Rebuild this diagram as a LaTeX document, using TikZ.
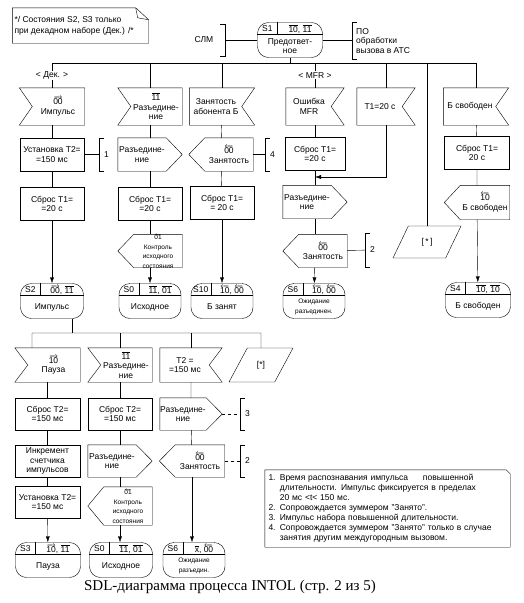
\documentclass[tikz,border=0pt]{standalone}
\usepackage{fontspec}
\setmainfont{Liberation Sans}
\newfontfamily\capfont{Liberation Serif}
\usetikzlibrary{shapes.geometric,arrows.meta,calc}

\newcommand\fw[1]{$\overrightarrow{\mbox{#1}}$}
\newcommand\bw[1]{$\overleftarrow{\mbox{#1}}$}
\newcommand\ov[1]{$\overline{\mbox{#1}}$}
\newcommand\tinytxt{\fontsize{6.5}{6.8}\selectfont}

% state: name, position, id, signals, text, width
\newcommand\stnode[6]{%
  \node[stbox, minimum width=#6] (#1) at (#2) {};
  \draw ([yshift=-12pt]#1.north west) -- ([yshift=-12pt]#1.north east);
  \draw ([xshift=20pt]#1.north west) -- ([xshift=20pt,yshift=-12pt]#1.north west);
  \node at ([xshift=10pt,yshift=-6.5pt]#1.north west) {#3};
  \node at ($([xshift=20pt]#1.north west)!0.5!(#1.north east)+(0,6.5)$) {#4};
  \node at ($(#1.center)+(0,6)$) {#5};
}
% input, notch left / right: [options] name, position, text
\newcommand\inL[4][]{%
  \node[sigbox, minimum height=36pt, #1] (#2) at (#3) {};
  \draw (#2.north west) -- (#2.north east) -- (#2.south east) -- (#2.south west)
    -- ([xshift=13pt]#2.west) -- cycle;
  \node at ([xshift=6pt]#2.center) {#4};
}
\newcommand\inR[4][]{%
  \node[sigbox, minimum height=36pt, #1] (#2) at (#3) {};
  \draw (#2.north east) -- (#2.north west) -- (#2.south west) -- (#2.south east)
    -- ([xshift=-13pt]#2.east) -- cycle;
  \node at ([xshift=-6pt]#2.center) {#4};
}
% output, pointing right / left
\newcommand\outR[4][]{%
  \node[sigbox, #1] (#2) at (#3) {};
  \draw (#2.north west) -- ([xshift=-16pt]#2.north east) -- (#2.east)
    -- ([xshift=-16pt]#2.south east) -- (#2.south west) -- cycle;
  \node at ([xshift=-8pt]#2.center) {#4};
}
\newcommand\outL[4][]{%
  \node[sigbox, #1] (#2) at (#3) {};
  \draw (#2.north east) -- ([xshift=16pt]#2.north west) -- (#2.west)
    -- ([xshift=16pt]#2.south west) -- (#2.south east) -- cycle;
  \node at ([xshift=8pt]#2.center) {#4};
}
% remark bracket: name, position, text, height
\newcommand\remark[4]{%
  \node[rmk, minimum height=#4] (#1) at (#2) {#3};
  \draw ([xshift=5pt]#1.north west) -- (#1.north west) -- (#1.south west) -- ([xshift=5pt]#1.south west);
}

\begin{document}
\begin{tikzpicture}[x=1pt,y=-1pt,
    every node/.style={font=\fontsize{8.5}{9.5}\selectfont, align=center, inner sep=1pt},
    task/.style={draw, rectangle, minimum width=64pt, minimum height=33pt},
    sigbox/.style={rectangle, minimum width=64pt, minimum height=33pt},
    para/.style={draw, trapezium, trapezium left angle=62, trapezium right angle=118,
      trapezium stretches=true, minimum width=68pt, minimum height=32pt},
    stbox/.style={draw, rectangle, rounded corners=11pt, minimum height=35pt},
    rmk/.style={anchor=west, inner xsep=5pt},
    >={Latex[length=6pt,width=4pt]}]
  \useasboundingbox (0,0) rectangle (523,603);

  % comment
  \node[minimum width=136pt, minimum height=35pt] (cmt) at (80.5,25.5) {};
  \node[anchor=west, align=left, font=\fontsize{8.5}{11}\selectfont] (cmttxt) at ([xshift=1pt]cmt.west)
    {*/ Состояния S2, S3 только\\при декадном наборе (Дек.) /*};
  \draw (cmt.north west) -- ([xshift=-13pt]cmt.north east) -- ([yshift=-12pt]cmt.north east)
    -- (cmt.south east) -- (cmt.south west) -- cycle;
  \draw ([xshift=-13pt]cmt.north east) -- ([xshift=-11pt,yshift=-10pt]cmt.north east)
    -- ([yshift=-12pt]cmt.north east);

  % start state
  \stnode{s1}{290,40}{S1}{\ov{10}, \ov{11}}{Предответ-\\ное}{65pt}
  \node (slm) at (204,40) {СЛМ};
  \coordinate (slmb) at (225,40);
  \draw ([xshift=-5pt,yshift=16pt]slmb) -- ([yshift=16pt]slmb) -- ([yshift=-16pt]slmb)
    -- ([xshift=-5pt,yshift=-16pt]slmb);
  \draw (slmb) -- (s1);
  \node[anchor=west, align=left] (po) at (355,41) {ПО\\обработки\\вызова в АТС};
  \coordinate (pob) at (352,40);
  \draw ([xshift=5pt,yshift=18pt]pob) -- ([yshift=18pt]pob) -- ([yshift=-19pt]pob)
    -- ([xshift=5pt,yshift=-19pt]pob);
  \draw (s1) -- (pob);

  % inputs
  \inL[minimum width=65pt, minimum height=37pt]{imp}{52,106.5}{\fw{00}\\Импульс}
  \inL[minimum width=64pt, minimum height=37pt]{razi}{150,106.5}{\ov{11}\\Разъедине-\\ние}
  \inR[minimum width=65pt, minimum height=37pt]{zanb}{222,106.5}{Занятость\\абонента Б}
  \inR[minimum width=58pt, minimum height=37pt]{mfr}{315,106.5}{Ошибка\\MFR}
  \inR[minimum width=58pt, minimum height=37pt]{t1in}{386,106.5}{T1=20 с}
  \inR[minimum width=65pt, minimum height=37pt]{bsv}{476,106.5}{Б свободен}
  \node[para] (star1) at (427,242) {[\,*\,]};

  % bus
  \coordinate (busL) at (52,63);
  \coordinate (busR) at (476,63);
  \draw (s1) -- (s1 |- busL);
  \draw (imp.north) -- node[fill=white] {< Дек. >} (busL) -- (busR) -- (bsv.north);
  \draw (razi) -- (razi |- busL);
  \draw (zanb) -- (zanb |- busL);
  \draw (mfr) -- node[fill=white] {< MFR >} (mfr |- busL);
  \draw (t1in) -- (t1in |- busL);
  \draw (star1) -- (star1 |- busL);

  % column 1
  \node[task] (t2set) at (52,154.5) {Установка T2=\\=150 мс};
  \node[task] (t1res1) at (52,204) {Сброс T1=\\=20 с};
  \stnode{s2}{52,301}{S2}{\fw{00}, \ov{11}}{Импульс}{63pt}
  \remark{rk1}{99,154.5}{1}{32pt}
  \draw (imp) -- (t2set) -- (t1res1);
  \draw[->] (t1res1) -- (s2);
  \draw (t2set) -- (rk1);

  % column 2
  \outR{raz2}{150,154.5}{Разъедине-\\ние}
  \node[task] (t1res2) at (150,204) {Сброс T1=\\=20 с};
  \outL{ctl}{150,251}{\tinytxt\bw{01}\\\tinytxt Контроль\\\tinytxt исходного\\\tinytxt состояния}
  \stnode{s0}{150,301}{S0}{\ov{11}, \ov{01}}{Исходное}{62pt}
  \draw (razi) -- (raz2) -- (t1res2) -- (ctl);
  \draw[->] (ctl) -- (s0);

  % column 3
  \outL{zan3}{221,154.5}{\bw{00}\\Занятость}
  \node[task] (t1res3) at (222,203) {Сброс T1=\\= 20 с};
  \stnode{s10}{222,301}{S10}{\bw{10}, \bw{00}}{Б занят}{62pt}
  \remark{rk4}{265,154.5}{4}{32pt}
  \draw (zanb) -- (zan3) -- (t1res3);
  \draw[->] (t1res3) -- (s10);
  \draw (zan3) -- (rk4);

  % column 4
  \node[task, minimum width=60pt] (t1res4) at (315,154) {Сброс T1=\\=20 с};
  \outR{raz4}{315,202}{Разъедине-\\ние}
  \outL{zan4}{315,251}{\bw{00}\\Занятость}
  \stnode{s6}{314,301}{S6}{\bw{10}, \bw{00}}{\tinytxt Ожидание\\\tinytxt разъединен.}{62pt}
  \remark{rk2}{365,250}{2}{34pt}
  \coordinate (m4) at (315,177);
  \draw (mfr) -- (t1res4) -- (raz4) -- (zan4);
  \draw[->] (t1in) |- (m4);
  \draw[->] (zan4) -- (s6);
  \draw (zan4) -- (rk2);

  % column 6
  \node[task, minimum width=65pt] (t1res6) at (477,153) {Сброс T1=\\20 с};
  \outL[minimum width=65pt, minimum height=34pt]{bsvout}{477,202.5}{\bw{10}\\Б свободен}
  \stnode{s4}{478,300}{S4}{\ov{10}, \ov{10}}{Б свободен}{65pt}
  \draw (bsv) -- (t1res6) -- (bsvout);
  \draw[->] (bsvout) -- (s4);

  % lower part
  \inL[minimum width=65pt, minimum height=34pt]{pauza}{47.5,365}{\fw{10}\\Пауза}
  \inL[minimum width=64pt, minimum height=34pt]{razi2}{120,365}{\ov{11}\\Разъедине-\\ние}
  \inR[minimum width=62pt, minimum height=34pt]{t2in}{191,365}{T2 =\\=150 мс}
  \node[para, trapezium left angle=56, trapezium right angle=124, minimum width=64pt,
    minimum height=34pt] (star2) at (261,365) {[*]};
  \coordinate (bus2L) at (32,333);
  \coordinate (bus2R) at (261,333);
  \draw ([xshift=20pt]s2.south) -- ([xshift=20pt]s2.south |- bus2L);
  \draw (pauza.north -| bus2L) -- (bus2L) -- (bus2R) -- (star2.north);
  \draw (razi2) -- (razi2 |- bus2L);
  \draw (t2in) -- (t2in |- bus2L);

  \node[task, minimum width=65pt, minimum height=32pt] (t2res1) at (47.5,414) {Сброс T2=\\=150 мс};
  \node[task, minimum height=32pt] (t2res2) at (120,414) {Сброс T2=\\=150 мс};
  \outR[minimum width=62pt, minimum height=32pt]{raz3}{191,414}{Разъедине-\\ние}
  \node[task, minimum width=65pt, minimum height=32pt] (incr) at (47.5,461) {Инкремент\\счетчика\\импульсов};
  \outR[minimum height=32pt]{raz5}{120,461}{Разъедине-\\ние}
  \outL[minimum width=65pt, minimum height=32pt]{zan5}{192,461}{\bw{00}\\Занятость}
  \node[task, minimum width=65pt, minimum height=32pt] (t2set2) at (47.5,502) {Установка T2=\\=150 мс};
  \outL[minimum height=38pt]{ctl2}{120,506}{\tinytxt\bw{01}\\\tinytxt Контроль\\\tinytxt исходного\\\tinytxt состояния}
  \stnode{s3}{48,560}{S3}{\fw{10}, \ov{11}}{Пауза}{65pt}
  \stnode{s0b}{121,560}{S0}{\ov{11}, \ov{01}}{Исходное}{63pt}
  \stnode{s6b}{194,560}{S6}{\ov{x}, \bw{00}}{\tinytxt Ожидание\\\tinytxt разъедин.}{62pt}
  \remark{rk3}{240,414}{3}{32pt}
  \remark{rk2b}{240,461}{2}{32pt}
  \draw (pauza) -- (t2res1) -- (incr) -- (t2set2);
  \draw[->] (t2set2) -- (s3);
  \draw (razi2) -- (t2res2) -- (raz5) -- (ctl2);
  \draw[->] (ctl2) -- (ctl2 |- s0b.north);
  \draw (t2in) -- (raz3) -- (zan5);
  \draw[->] (zan5) -- (zan5 |- s6b.north);
  \draw[dashed] (raz3) -- (rk3);
  \draw[dashed] (zan5) -- (rk2b);

  % notes
  \node[minimum width=245pt, minimum height=77pt, text width=238pt, align=left,
    font=\fontsize{8.5}{10}\selectfont] (notes) at (387.5,508.5)
    {1. Время распознавания импульса\hspace{12pt} повышенной\\
     \phantom{1. }длительности. Импульс фиксируется в пределах\\
     \phantom{1. }20 мс <t< 150 мс.\\
     2. Сопровождается зуммером "Занято".\\
     3. Импульс набора повышенной длительности.\\
     4. Сопровождается зуммером "Занято" только в случае\\
     \phantom{4. }занятия другим междугородным вызовом.};
  \draw (notes.north west) -- ([xshift=-4pt]notes.north east) -- ([yshift=-4pt]notes.north east)
    -- (notes.south east) -- (notes.south west) -- cycle;

  \node[font=\capfont\fontsize{15}{17}\selectfont] (cap) at (230,587)
    {SDL-диаграмма процесса INTOL (стр. 2 из 5)};
\end{tikzpicture}
\end{document}
